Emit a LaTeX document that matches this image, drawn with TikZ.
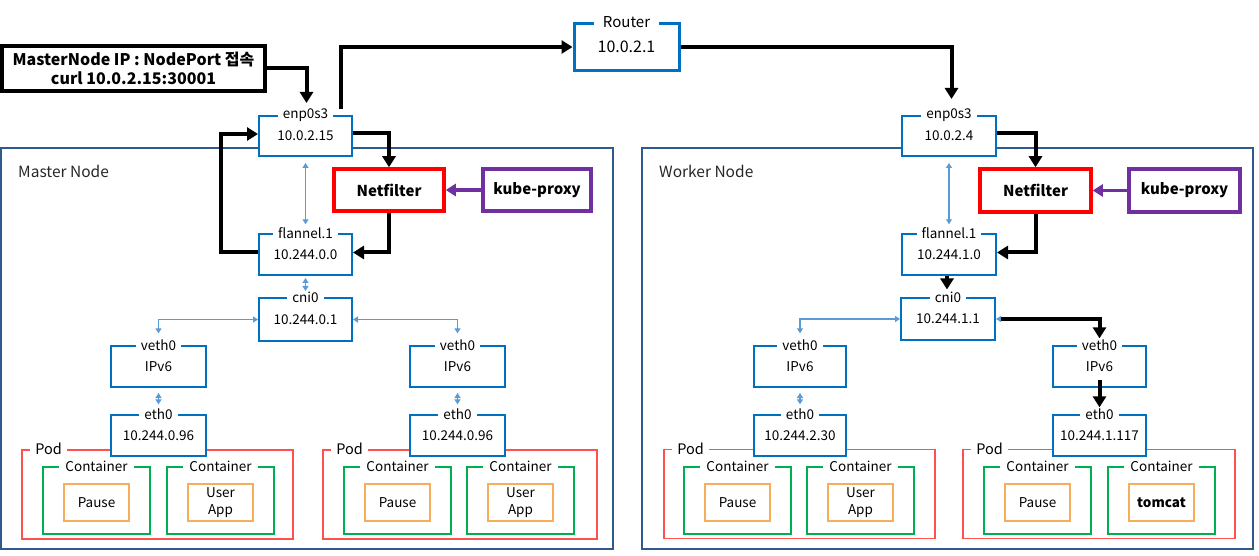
\documentclass[tikz,border=0pt]{standalone}
\usepackage{fontspec}
\setmainfont{Noto Sans CJK KR}
\usetikzlibrary{arrows.meta}
\definecolor{bbl}{HTML}{0070C0}
\definecolor{nodeb}{HTML}{2E5B8C}
\definecolor{lblue}{HTML}{5B9BD5}
\definecolor{podred}{HTML}{FF5050}
\definecolor{netred}{HTML}{FF0000}
\definecolor{cgreen}{HTML}{00B050}
\definecolor{corange}{HTML}{F7AE5A}
\definecolor{purp}{HTML}{7030A0}
\begin{document}
\begin{tikzpicture}[x=1pt,y=-1pt,
  outerbox/.style={draw=nodeb,line width=1.5pt,inner sep=0pt},
  nlbl/.style={anchor=west,inner sep=0pt,font=\fontsize{15.5}{17}\selectfont,text=black!85},
  ibox/.style={draw=bbl,line width=2pt,fill=white,inner sep=0pt,align=center,font=\fontsize{13.5}{16}\selectfont,minimum height=41pt},
  blbl/.style={fill=white,inner sep=0pt,inner xsep=5pt,inner ysep=1pt,font=\fontsize{13.5}{15}\selectfont},
  podbox/.style={draw=podred,line width=1.6pt,inner sep=0pt,minimum height=89pt},
  cbox/.style={draw=cgreen,line width=2pt,inner sep=0pt,minimum width=107pt,minimum height=67pt},
  obox/.style={draw=corange,line width=2pt,inner sep=0pt,minimum width=65pt,minimum height=37pt,align=center,font=\fontsize{13.5}{17}\selectfont},
  clbl/.style={fill=white,inner sep=0pt,inner xsep=6pt,inner ysep=1pt,font=\fontsize{13.5}{15}\selectfont},
  plbl/.style={fill=white,inner sep=0pt,inner xsep=5pt,inner ysep=1pt,font=\fontsize{14.5}{16}\selectfont,anchor=west},
  netbox/.style={draw=netred,line width=3.5pt,fill=white,minimum width=110pt,minimum height=42pt,font=\fontsize{15}{18}\bfseries},
  kpbox/.style={draw=purp,line width=3.5pt,fill=white,minimum width=108pt,minimum height=42pt,font=\fontsize{15}{18}\bfseries},
  blk/.style={draw=black,line width=4pt,-{Triangle[length=11pt,width=13pt]}},
  pur/.style={draw=purp,line width=3.5pt,-{Triangle[length=10pt,width=12pt]}},
  lb/.style={draw=lblue,line width=1.5pt,{Triangle[length=5pt,width=6pt]}-{Triangle[length=5pt,width=6pt]}},
]
\useasboundingbox (0,0) rectangle (1259,556);

% ---------- outer node boxes
\node[outerbox,minimum width=612pt,minimum height=401pt] (master) at (307,348.5) {};
\node[nlbl] (masterl) at (18,171) {Master Node};
\node[outerbox,minimum width=611pt,minimum height=401pt] (worker) at (947.5,348.5) {};
\node[nlbl] (workerl) at (659,171) {Worker Node};

% ---------- pods
\node[podbox,minimum width=271pt] (mpodL) at (157.5,494.5) {};
\node[plbl] (mpodLl) at ([xshift=9pt]mpodL.north west) {Pod};
\node[podbox,minimum width=274pt] (mpodR) at (460,494.5) {};
\node[plbl] (mpodRl) at ([xshift=9pt]mpodR.north west) {Pod};
\node[podbox,minimum width=271pt] (wpodL) at (799.5,494) {};
\node[plbl] (wpodLl) at ([xshift=9pt]wpodL.north west) {Pod};
\node[podbox,minimum width=272pt] (wpodR) at (1099,494) {};
\node[plbl] (wpodRl) at ([xshift=9pt]wpodR.north west) {Pod};

% ---------- containers
\node[cbox] (mc1) at (96.5,500.5) {};
\node[clbl] (mc1l) at (mc1.north) {Container};
\node[obox] (mo1) at (96.5,502.5) {Pause};
\node[cbox] (mc2) at (220.5,500.5) {};
\node[clbl] (mc2l) at (mc2.north) {Container};
\node[obox] (mo2) at (220.5,502.5) {User\\App};
\node[cbox] (mc3) at (397.5,500.5) {};
\node[clbl] (mc3l) at (mc3.north) {Container};
\node[obox] (mo3) at (397.5,502.5) {Pause};
\node[cbox] (mc4) at (520.5,500.5) {};
\node[clbl] (mc4l) at (mc4.north) {Container};
\node[obox] (mo4) at (520.5,502.5) {User\\App};

\node[cbox] (wc1) at (737.5,500.5) {};
\node[clbl] (wc1l) at (wc1.north) {Container};
\node[obox] (wo1) at (737.5,502.5) {Pause};
\node[cbox] (wc2) at (860.5,500.5) {};
\node[clbl] (wc2l) at (wc2.north) {Container};
\node[obox] (wo2) at (860.5,502.5) {User\\App};
\node[cbox] (wc3) at (1037.5,500.5) {};
\node[clbl] (wc3l) at (wc3.north) {Container};
\node[obox] (wo3) at (1037.5,502.5) {Pause};
\node[cbox] (wc4) at (1161.5,500.5) {};
\node[clbl] (wc4l) at (wc4.north) {Container};
\node[obox] (wo4) at (1161.5,502.5) {\bfseries tomcat};

% ---------- master interfaces
\node[ibox,minimum width=93pt,minimum height=40pt] (menp) at (305.5,136) {10.0.2.15};
\node[blbl] (menpl) at (menp.north) {enp0s3};
\node[ibox,minimum width=93pt] (mfl) at (305.5,254.5) {10.244.0.0};
\node[blbl] (mfll) at (mfl.north) {flannel.1};
\node[ibox,minimum width=93pt,minimum height=42pt] (mcni) at (305.5,319.5) {10.244.0.1};
\node[blbl] (mcnil) at (mcni.north) {cni0};
\node[ibox,minimum width=95pt] (mvL) at (158.5,366.5) {IPv6};
\node[blbl] (mvLl) at (mvL.north) {veth0};
\node[ibox,minimum width=95pt] (meL) at (158.5,435.5) {10.244.0.96};
\node[blbl] (meLl) at (meL.north) {eth0};
\node[ibox,minimum width=95pt] (mvR) at (457.5,366.5) {IPv6};
\node[blbl] (mvRl) at (mvR.north) {veth0};
\node[ibox,minimum width=95pt] (meR) at (457.5,435.5) {10.244.0.96};
\node[blbl] (meRl) at (meR.north) {eth0};
\node[netbox] (mnet) at (389,190) {Netfilter};
\node[kpbox] (mkp) at (537,190) {kube-proxy};

% ---------- worker interfaces
\node[ibox,minimum width=94pt,minimum height=40pt] (wenp) at (949,136) {10.0.2.4};
\node[blbl] (wenpl) at (wenp.north) {enp0s3};
\node[ibox,minimum width=94pt] (wfl) at (949,254.5) {10.244.1.0};
\node[blbl] (wfll) at (wfl.north) {flannel.1};
\node[ibox,minimum width=94pt,minimum height=42pt] (wcni) at (948,319) {10.244.1.1};
\node[blbl] (wcnil) at (wcni.north) {cni0};
\node[ibox,minimum width=92pt] (wvL) at (800,366.5) {IPv6};
\node[blbl] (wvLl) at (wvL.north) {veth0};
\node[ibox,minimum width=92pt] (weL) at (800,435.5) {10.244.2.30};
\node[blbl] (weLl) at (weL.north) {eth0};
\node[ibox,minimum width=93pt] (wvR) at (1099.5,366.5) {IPv6};
\node[blbl] (wvRl) at (wvR.north) {veth0};
\node[ibox,minimum width=93pt] (weR) at (1099.5,435.5) {10.244.1.117};
\node[blbl] (weRl) at (weR.north) {eth0};
\node[netbox,minimum width=111pt,minimum height=43pt] (wnet) at (1035.5,190.5) {Netfilter};
\node[kpbox,minimum width=111pt,minimum height=43pt] (wkp) at (1184.5,190.5) {kube-proxy};

% ---------- router and request label
\node[ibox,line width=3pt,minimum width=105pt,minimum height=47pt,font=\fontsize{16}{18}\selectfont] (router) at (626.5,47) {10.0.2.1};
\node[blbl,inner xsep=9pt,font=\fontsize{15}{17}\selectfont] (routerl) at (router.north) {Router};
\node[draw=black,line width=3.5pt,fill=white,minimum width=263pt,minimum height=45pt,inner sep=0pt,align=center,font=\fontsize{16}{19}\bfseries] (req) at (133.5,68.5) {MasterNode IP : NodePort 접속\\curl 10.0.2.15:30001};

% ---------- light blue links (master)
\draw[lb,shorten <=6pt,shorten >=2pt] (menp.south) -- (mfll.north);
\draw[lb,shorten <=2pt] (mfl.south) -- (mcnil.north);
\draw[lb] (mcni.west) -| ([yshift=5pt]mvLl.north);
\draw[lb] (mcni.east) -| ([yshift=5pt]mvRl.north);
\draw[lb,shorten <=5pt,shorten >=3pt] (mvL.south) -- (meLl.north);
\draw[lb,shorten <=5pt,shorten >=3pt] (mvR.south) -- (meRl.north);

% ---------- light blue links (worker)
\draw[lb,shorten <=6pt,shorten >=2pt] (wenp.south) -- (wfll.north);
\draw[lb] (wcni.west) -| ([yshift=5pt]wvLl.north);
\draw[lb] (wcni.east) -| ([yshift=5pt]wvRl.north);
\draw[lb,shorten <=5pt,shorten >=3pt] (wvL.south) -- (weLl.north);

% ---------- traffic path
\draw[blk] (req.east) -| ([xshift=1pt,yshift=12pt]menp.north);
\draw[blk] ([xshift=35.5pt,yshift=6pt]menp.north) |- (router.west);
\draw[blk] (router.east) -| ([xshift=2.5pt,yshift=16pt]wenp.north);
\draw[blk] ([yshift=3pt]menp.east) -| (mnet.north);
\draw[blk] (mnet.south) |- ([yshift=2pt]mfl.east);
\draw[blk] ([yshift=2pt]mfl.west) -- ++(-37,0) |- ([yshift=2pt]menp.west);
\draw[pur] (mkp) -- (mnet);

\draw[blk] ([yshift=3pt]wenp.east) -| (wnet.north);
\draw[blk] (wnet.south) |- ([yshift=2pt]wfl.east);
\draw[pur] (wkp) -- (wnet);
\draw[blk] ([xshift=-2pt]wfl.south) -- ([xshift=-1pt,yshift=1pt]wcnil.north);
\draw[blk] ([xshift=5pt]wcni.east) -| (wvRl.north);
\draw[blk] ([yshift=8pt]wvR.south) -- (weRl.north);
\end{tikzpicture}
\end{document}
